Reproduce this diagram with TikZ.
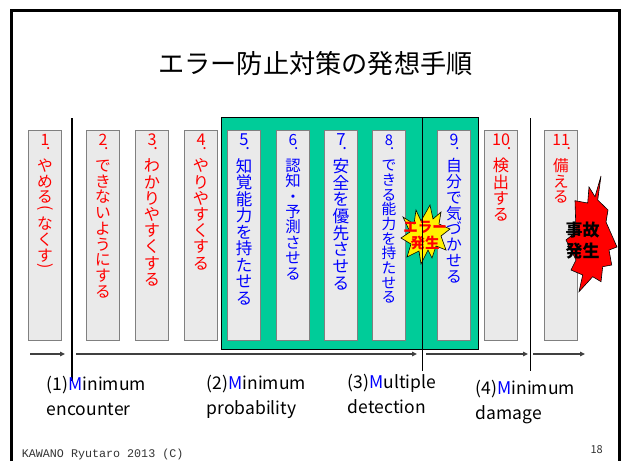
\documentclass[tikz,border=0pt]{standalone}
\usepackage{fontspec}
\setmainfont{Noto Sans CJK JP}
\newfontfamily\footfont{Liberation Mono}
\usetikzlibrary{arrows.meta}

\definecolor{boxgray}{RGB}{234,234,234}
\definecolor{boxedge}{RGB}{128,128,128}
\definecolor{mgreen}{RGB}{0,204,153}
\definecolor{arrowgray}{RGB}{64,64,64}

% vertical (tategaki) text: one character per line
\makeatletter
\def\tatelp{(}
\def\taterp{)}
\newcommand\tate[1]{\vbox{\offinterlineskip
  \@tfor\tatech:=#1\do{%
    \ifx\tatech\tatelp\tatehalf\else\ifx\tatech\taterp\tatehalf\else\tatefull\fi\fi}}}
\newcommand\tatefull{\hbox to 1.1em{\hss\vrule height .88em depth .12em width 0pt\tatech\hss}}
\newcommand\tatehalf{\hbox to 1.1em{\hss\vrule height .5em depth .2em width 0pt\rotatebox[origin=c]{-90}{\tatech}\hss}}
\makeatother

\begin{document}
\begin{tikzpicture}[x=1pt,y=-1pt,
    stepbox/.style={draw=boxedge,fill=boxgray,line width=1pt,minimum width=33,minimum height=210,inner sep=0pt,anchor=north west},
    numlbl/.style={anchor=base,inner sep=0pt},
    flow/.style={draw=arrowgray,line width=1.5pt,-{Triangle[length=5pt,width=4.5pt]}},
    sep/.style={line width=1.2pt},
    mlbl/.style={anchor=base west,align=left,inner sep=0pt,font=\fontsize{17.5}{25}\selectfont}]
    \useasboundingbox (0,0) rectangle (621,461);
    \draw[line width=3pt] (11,461) -- (11,10) -- (619,10) -- (619,461);
    \node[anchor=base,inner sep=0pt,font=\fontsize{26.2}{30}\selectfont] (title) at (315.5,73) {エラー防止対策の発想手順};
    % green area
    \draw[fill=mgreen,line width=.8pt] (221.5,117) rectangle (478.5,349);
    % steps
    \foreach \x/\n/\t/\c/\s [count=\i] in {28/1/やめる(なくす)/red/15.7,
        86/2/できないようにする/red/15.7, 135/3/わかりやすくする/red/16.2,
        184/4/やりやすくする/red/16.2, 227/5/知覚能力を持たせる/blue/16.5,
        276/6/認知・予測させる/blue/15.4, 324/7/安全を優先させる/blue/16.7,
        372/8/できる能力を持たせる/blue/14.7, 437/9/自分で気づかせる/blue/15.8,
        484/10/検出する/red/16.2, 544/11/備える/red/15.6}{
        \node[stepbox] (s\i) at (\x,130) {};
        \node[numlbl,text=\c,font=\fontsize{\s}{\s}\selectfont] (n\i) at ([yshift=-15.5pt]s\i.north) {\n\rlap{\kern-.2em\raisebox{-4.3pt}{.}}};
        \node[anchor=north,inner sep=0pt,text=\c,font=\fontsize{\s}{\s}\selectfont] (t\i) at ([yshift=-27.5pt]s\i.north) {\expandafter\tate\expandafter{\t}};
    }
    % error burst
    \draw[fill=yellow,line width=.6pt] (430,205) -- (433,219) -- (441,212) -- (439,224) -- (450,229)
        -- (441,236) -- (446,250) -- (436,246) -- (432,258) -- (428,250) -- (421,264) -- (419,251)
        -- (407,257) -- (411,244) -- (401,238) -- (410,232) -- (403,217) -- (414,224) -- (416,210)
        -- (421,221) -- cycle;
    \node[align=center,inner sep=0pt,text=red,font=\bfseries\fontsize{14.5}{16}\selectfont] (err) at (425,236) {エラー\\発生};
    % phase borders
    \draw[sep] (72,118) -- (72,381);
    \draw[sep] (422.5,118) -- (422.5,371);
    \draw[sep] (530.5,118) -- (530.5,371);
    % accident burst
    \draw[fill=red,line width=.6pt] (601,176) -- (597.7,200) -- (608,210) -- (606,222) -- (617,247)
        -- (609,250) -- (611.7,265) -- (602.7,266.7) -- (601,281.7) -- (592.7,276.7) -- (579,291.7)
        -- (582.7,275) -- (571,270) -- (576,260) -- (566,240) -- (576,232) -- (575,200.7)
        -- (587.7,203) -- (589,187) -- (595,196.7) -- cycle;
    \node[align=center,inner sep=0pt,font=\bfseries\fontsize{17}{21}\selectfont] (acc) at (582.5,241) {事故\\発生};
    % arrows
    \foreach \a/\b in {30/65,76/417,426/528,533/585}
        \draw[flow] (\a,354) -- (\b,354);
    % 4M (base = last line)
    \node[mlbl] (m1) at (46.7,415) {(1){\color{blue}M}inimum\\encounter};
    \node[mlbl] (m2) at (206.7,414) {(2){\color{blue}M}inimum\\probability};
    \node[mlbl] (m3) at (347.7,413) {(3){\color{blue}M}ultiple\\detection};
    \node[mlbl] (m4) at (475.7,419) {(4){\color{blue}M}inimum\\damage};
    \node[anchor=base west,inner sep=0pt,text=black!80,font=\footfont\fontsize{11.7}{12}\selectfont] (foot) at (21.7,457) {KAWANO Ryutaro 2013 (C)};
    \node[anchor=base east,inner sep=0pt,text=black!80,font=\fontsize{11}{12}\selectfont] (page) at (603,453.5) {18};
\end{tikzpicture}
\end{document}
